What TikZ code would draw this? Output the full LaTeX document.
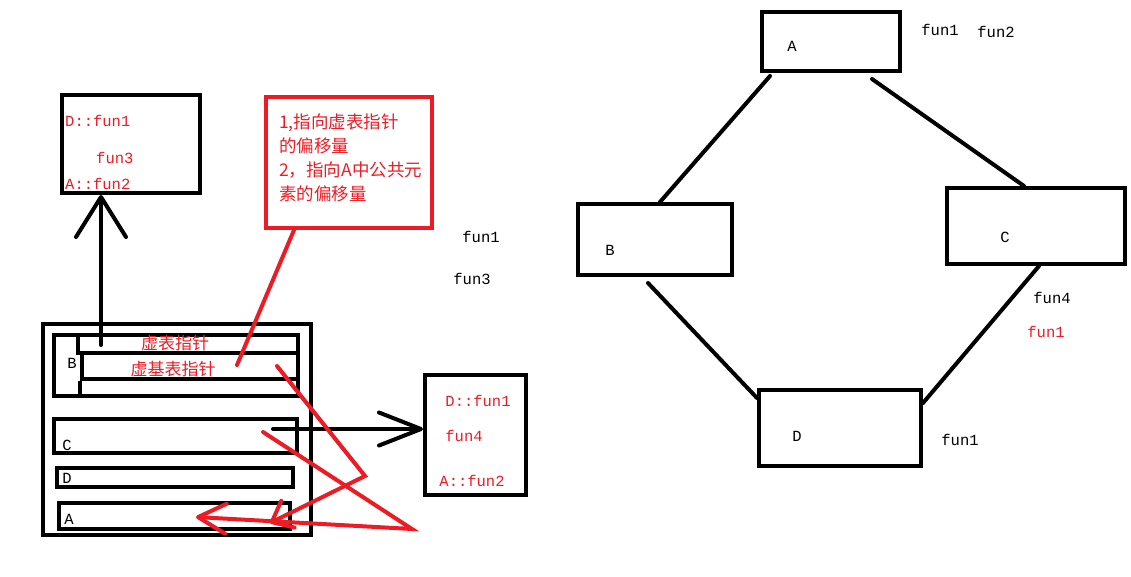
\documentclass[tikz,border=0pt]{standalone}
\usepackage{fontspec}
\setmainfont{Liberation Mono}
\newfontfamily\cjk{Noto Sans CJK SC}
\usetikzlibrary{arrows.meta}
\definecolor{pen}{RGB}{237,28,36}

\begin{document}
\begin{tikzpicture}[x=1pt,y=-1pt,
  box/.style={draw, line width=4pt, inner sep=0pt},
  stroke/.style={line width=4pt, line cap=round},
  lbl/.style={font=\fontsize{15.5}{17}\selectfont, inner sep=0pt},
  rlbl/.style={lbl, text=pen},
  hanzi/.style={font=\cjk\fontsize{17}{24}\selectfont, text=pen, inner sep=0pt}]
\useasboundingbox (0,0) rectangle (1131,576);

% right: the diamond
\node[box, minimum width=138pt, minimum height=59pt] (rA) at (831,41.5) {};
\node[box, minimum width=154pt, minimum height=71pt] (rB) at (655,239.5) {};
\node[box, minimum width=178pt, minimum height=76pt] (rC) at (1036,226) {};
\node[box, minimum width=162pt, minimum height=76pt] (rD) at (840,428) {};
\draw[stroke] ([xshift=10pt,yshift=-3pt]rA.south west) -- ([xshift=84pt]rB.north west);
\draw[stroke] ([xshift=112pt,yshift=-6pt]rA.south west) -- ([xshift=79pt]rC.north west);
\draw[stroke] ([xshift=72pt,yshift=-6pt]rB.south west) -- ([yshift=-10pt]rD.north west);
\draw[stroke] ([xshift=94pt]rC.south west) -- ([yshift=-15pt]rD.north east);
\node[lbl] (rAname) at (792,46) {A};
\node[lbl] (rBname) at (610,250) {B};
\node[lbl] (rCname) at (1005,237) {C};
\node[lbl] (rDname) at (797,436) {D};
\node[lbl] (rAf1) at (940,30) {fun1};
\node[lbl] (rAf2) at (996,32) {fun2};
\node[lbl] (rCf4) at (1052,298) {fun4};
\node[rlbl] (rCf1) at (1046,332) {fun1};
\node[lbl] (rDf1) at (960,440) {fun1};

% left: object layout of D
\node[box, minimum width=268pt, minimum height=211pt] (obj) at (177,429.5) {};
\node[box, minimum width=244pt, minimum height=61pt] (Bpart) at (176,365.5) {};
\node[box, minimum width=220pt, minimum height=18pt] (vptr) at (188,344) {};
\node[box, minimum width=216pt, minimum height=26pt] (vbptr) at (190,366) {};
\draw[line width=4pt] (vbptr.south west) -- (vbptr.south west |- Bpart.south);
\node[box, minimum width=243pt, minimum height=34pt] (Cpart) at (175.5,436) {};
\node[box, minimum width=236pt, minimum height=19pt] (Dpart) at (175,477.5) {};
\node[box, minimum width=231pt, minimum height=26pt] (Apart) at (174.5,516) {};
\node[lbl] (Bname) at (72,363) {B};
\node[lbl] (Cname) at (67,445) {C};
\node[lbl] (Dname) at (67,478) {D};
\node[lbl] (Aname) at (69,519) {A};
\node[hanzi] (vptrtxt) at (175,343) {虚表指针};
\node[hanzi] (vbptrtxt) at (173,369) {虚基表指针};

% vtables
\node[box, minimum width=138pt, minimum height=98pt] (vtB) at (131,144) {};
\node[rlbl, anchor=west] (vtBf1) at (65,121) {D::fun1};
\node[rlbl, anchor=west] (vtBf3) at (96,158) {fun3};
\node[rlbl, anchor=west] (vtBf2) at (65,184) {A::fun2};
\node[box, minimum width=101pt, minimum height=120pt] (vtC) at (475.5,435) {};
\node[rlbl] (vtCf1) at (478,401) {D::fun1};
\node[rlbl] (vtCf4) at (464,436) {fun4};
\node[rlbl] (vtCf2) at (472,481) {A::fun2};
\node[lbl] (xf1) at (481,237) {fun1};
\node[lbl] (xf3) at (472,279) {fun3};

% offsets note
\node[box, draw=pen, minimum width=166pt, minimum height=131pt] (note) at (349,162.5) {};
\node[hanzi, anchor=north west, align=left, font=\cjk\fontsize{17.5}{24}\selectfont] (notetxt) at (279,114)
  {1,指向虚表指针\\的偏移量\\2，指向A中公共元\\素的偏移量};

% pointers
\coordinate (vptrpt) at (101,345);
\coordinate (Cpt) at (273,429);
\coordinate (vbptrpt) at (237,365);
\draw[stroke, -{Straight Barb[length=40pt,width=50pt,round]}] (vptrpt) -- ([xshift=-30pt]vtB.south);
\draw[stroke, -{Straight Barb[length=42pt,width=33pt,round]}] (Cpt) -- (Cpt -| vtC.west);
\draw[stroke, draw=pen] ([xshift=30pt]note.south west) -- (vbptrpt);
\coordinate (r1s) at (277,366);
\coordinate (r1m) at (365,476);
\coordinate (r1e) at (270,523);
\coordinate (r2s) at (263,432);
\coordinate (r2m) at (412,529);
\coordinate (r2e) at (196,517);
\draw[stroke, draw=pen, -{Straight Barb[length=18pt,width=30pt,round]}] (r1s) -- (r1m) -- (r1e);
\draw[stroke, draw=pen, -{Straight Barb[length=28pt,width=30pt,round]}] (r2s) -- (r2m) -- (r2e);
\end{tikzpicture}
\end{document}
